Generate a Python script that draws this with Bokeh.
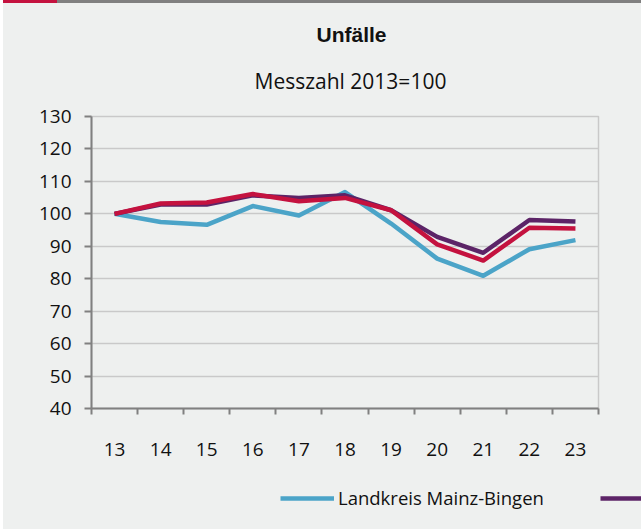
from bokeh.plotting import figure
from bokeh.models import Div, FixedTicker, Title, Legend, LegendItem
from bokeh.layouts import column, row
from bokeh.embed import file_html
from bokeh.resources import INLINE

# ---- data ----
years = [13, 14, 15, 16, 17, 18, 19, 20, 21, 22, 23]
mainz_bingen = [100.0, 97.5, 96.6, 102.4, 99.5, 106.7, 97.0, 86.2, 80.9, 89.1, 91.9]
series_purple = [100.0, 102.9, 102.9, 105.7, 104.9, 105.7, 101.1, 92.9, 88.0, 98.1, 97.6]
series_red = [100.0, 103.2, 103.5, 106.1, 103.9, 104.9, 101.1, 90.6, 85.6, 95.7, 95.5]
y_ticks = [40, 50, 60, 70, 80, 90, 100, 110, 120, 130]

title_text = "Unfälle"
subtitle_text = "Messzahl 2013=100"
label_blue = "Landkreis Mainz-Bingen"
label_purple = "Landkreise"
label_red = "Rheinland-Pfalz"

BG = "#eef0ef"
BLUE = "#4ba4c8"
PURPLE = "#5c2467"
RED = "#c4123f"
AXIS = "#808080"
GRID = "#c9c9c9"
FONT = "Open Sans"
LW = 4.5

bar = Div(
    text="",
    width=638, height=3, margin=(0, 0, 0, 0),
    styles={"background": "linear-gradient(to right, #c4123f 0px, #c4123f 54px, #808080 54px, #808080 100%)"},
)

p = figure(
    width=638, height=467,
    x_range=(12.5, 23.5), y_range=(40, 130),
    output_backend="svg", toolbar_location=None,
    min_border_left=88, min_border_right=43,
    min_border_top=113, min_border_bottom=62,
    background_fill_color=BG, border_fill_color=BG,
    margin=(0, 0, 0, 0),
)

p.add_layout(Title(text=subtitle_text, align="left", text_font=FONT,
                   text_font_size="21px", text_font_style="normal",
                   text_color="#111111", standoff=43, offset=163), "above")
p.add_layout(Title(text=title_text, align="left", text_font="Liberation Sans",
                   text_font_size="21px", text_font_style="bold",
                   text_color="#111111", standoff=-4, offset=225), "above")

p.line(years, mainz_bingen, line_color=BLUE, line_width=LW, line_join="round")
p.line(years, series_purple, line_color=PURPLE, line_width=LW, line_join="round")
p.line(years, series_red, line_color=RED, line_width=LW, line_join="round")

# axes
p.xaxis.ticker = FixedTicker(ticks=years, minor_ticks=[y - 0.5 for y in years] + [years[-1] + 0.5])
p.xaxis.major_tick_out = 0
p.xaxis.major_tick_in = 0
p.xaxis.minor_tick_out = 6
p.xaxis.minor_tick_in = 0
p.xaxis.minor_tick_line_color = AXIS
p.xaxis.minor_tick_line_width = 2
p.xaxis.axis_line_color = AXIS
p.xaxis.axis_line_width = 2
p.xaxis.major_label_text_font = FONT
p.xaxis.major_label_text_font_size = "19px"
p.xaxis.major_label_text_color = "#111111"
p.xaxis.major_label_standoff = 28

p.yaxis.ticker = FixedTicker(ticks=y_ticks, minor_ticks=[])
p.yaxis.major_tick_out = 7
p.yaxis.major_tick_in = 0
p.yaxis.major_tick_line_color = AXIS
p.yaxis.major_tick_line_width = 2
p.yaxis.axis_line_color = AXIS
p.yaxis.axis_line_width = 2
p.yaxis.major_label_text_font = FONT
p.yaxis.major_label_text_font_size = "19px"
p.yaxis.major_label_text_color = "#111111"
p.yaxis.major_label_standoff = 13

p.xgrid.visible = False
p.ygrid.grid_line_color = GRID
p.ygrid.grid_line_width = 1.5
p.outline_line_color = GRID
p.outline_line_width = 1.5

# legend strip (separate canvas whose frame covers the whole strip)
lg = figure(
    width=638, height=59, x_range=(0, 1), y_range=(0, 1),
    output_backend="svg", toolbar_location=None,
    x_axis_type=None, y_axis_type=None,
    min_border=0, min_border_left=0, min_border_right=0,
    min_border_top=0, min_border_bottom=0,
    background_fill_color=BG, border_fill_color=BG,
    outline_line_color=None, margin=(0, 0, 0, 0),
)
lg.grid.visible = False
lb = lg.line([5, 6], [5, 6], line_color=BLUE, line_width=LW)
lp = lg.line([5, 6], [5, 6], line_color=PURPLE, line_width=LW)
lr = lg.line([5, 6], [5, 6], line_color=RED, line_width=LW)

legend = Legend(
    items=[LegendItem(label=label_blue, renderers=[lb]),
           LegendItem(label=label_purple, renderers=[lp]),
           LegendItem(label=label_red, renderers=[lr])],
    location=(277, 19), orientation="horizontal",
    background_fill_alpha=0, border_line_alpha=0,
    glyph_width=54, glyph_height=20, label_height=20,
    label_text_font=FONT, label_text_font_size="18.5px", label_text_color="#111111",
    spacing=56, padding=0, margin=0, label_standoff=4,
)
lg.add_layout(legend)

layout = column(bar, p, row(lg), spacing=0, margin=(0, 0, 0, 3),
                styles={"background-color": BG})
open("out.html", "w").write(file_html(layout, INLINE))
